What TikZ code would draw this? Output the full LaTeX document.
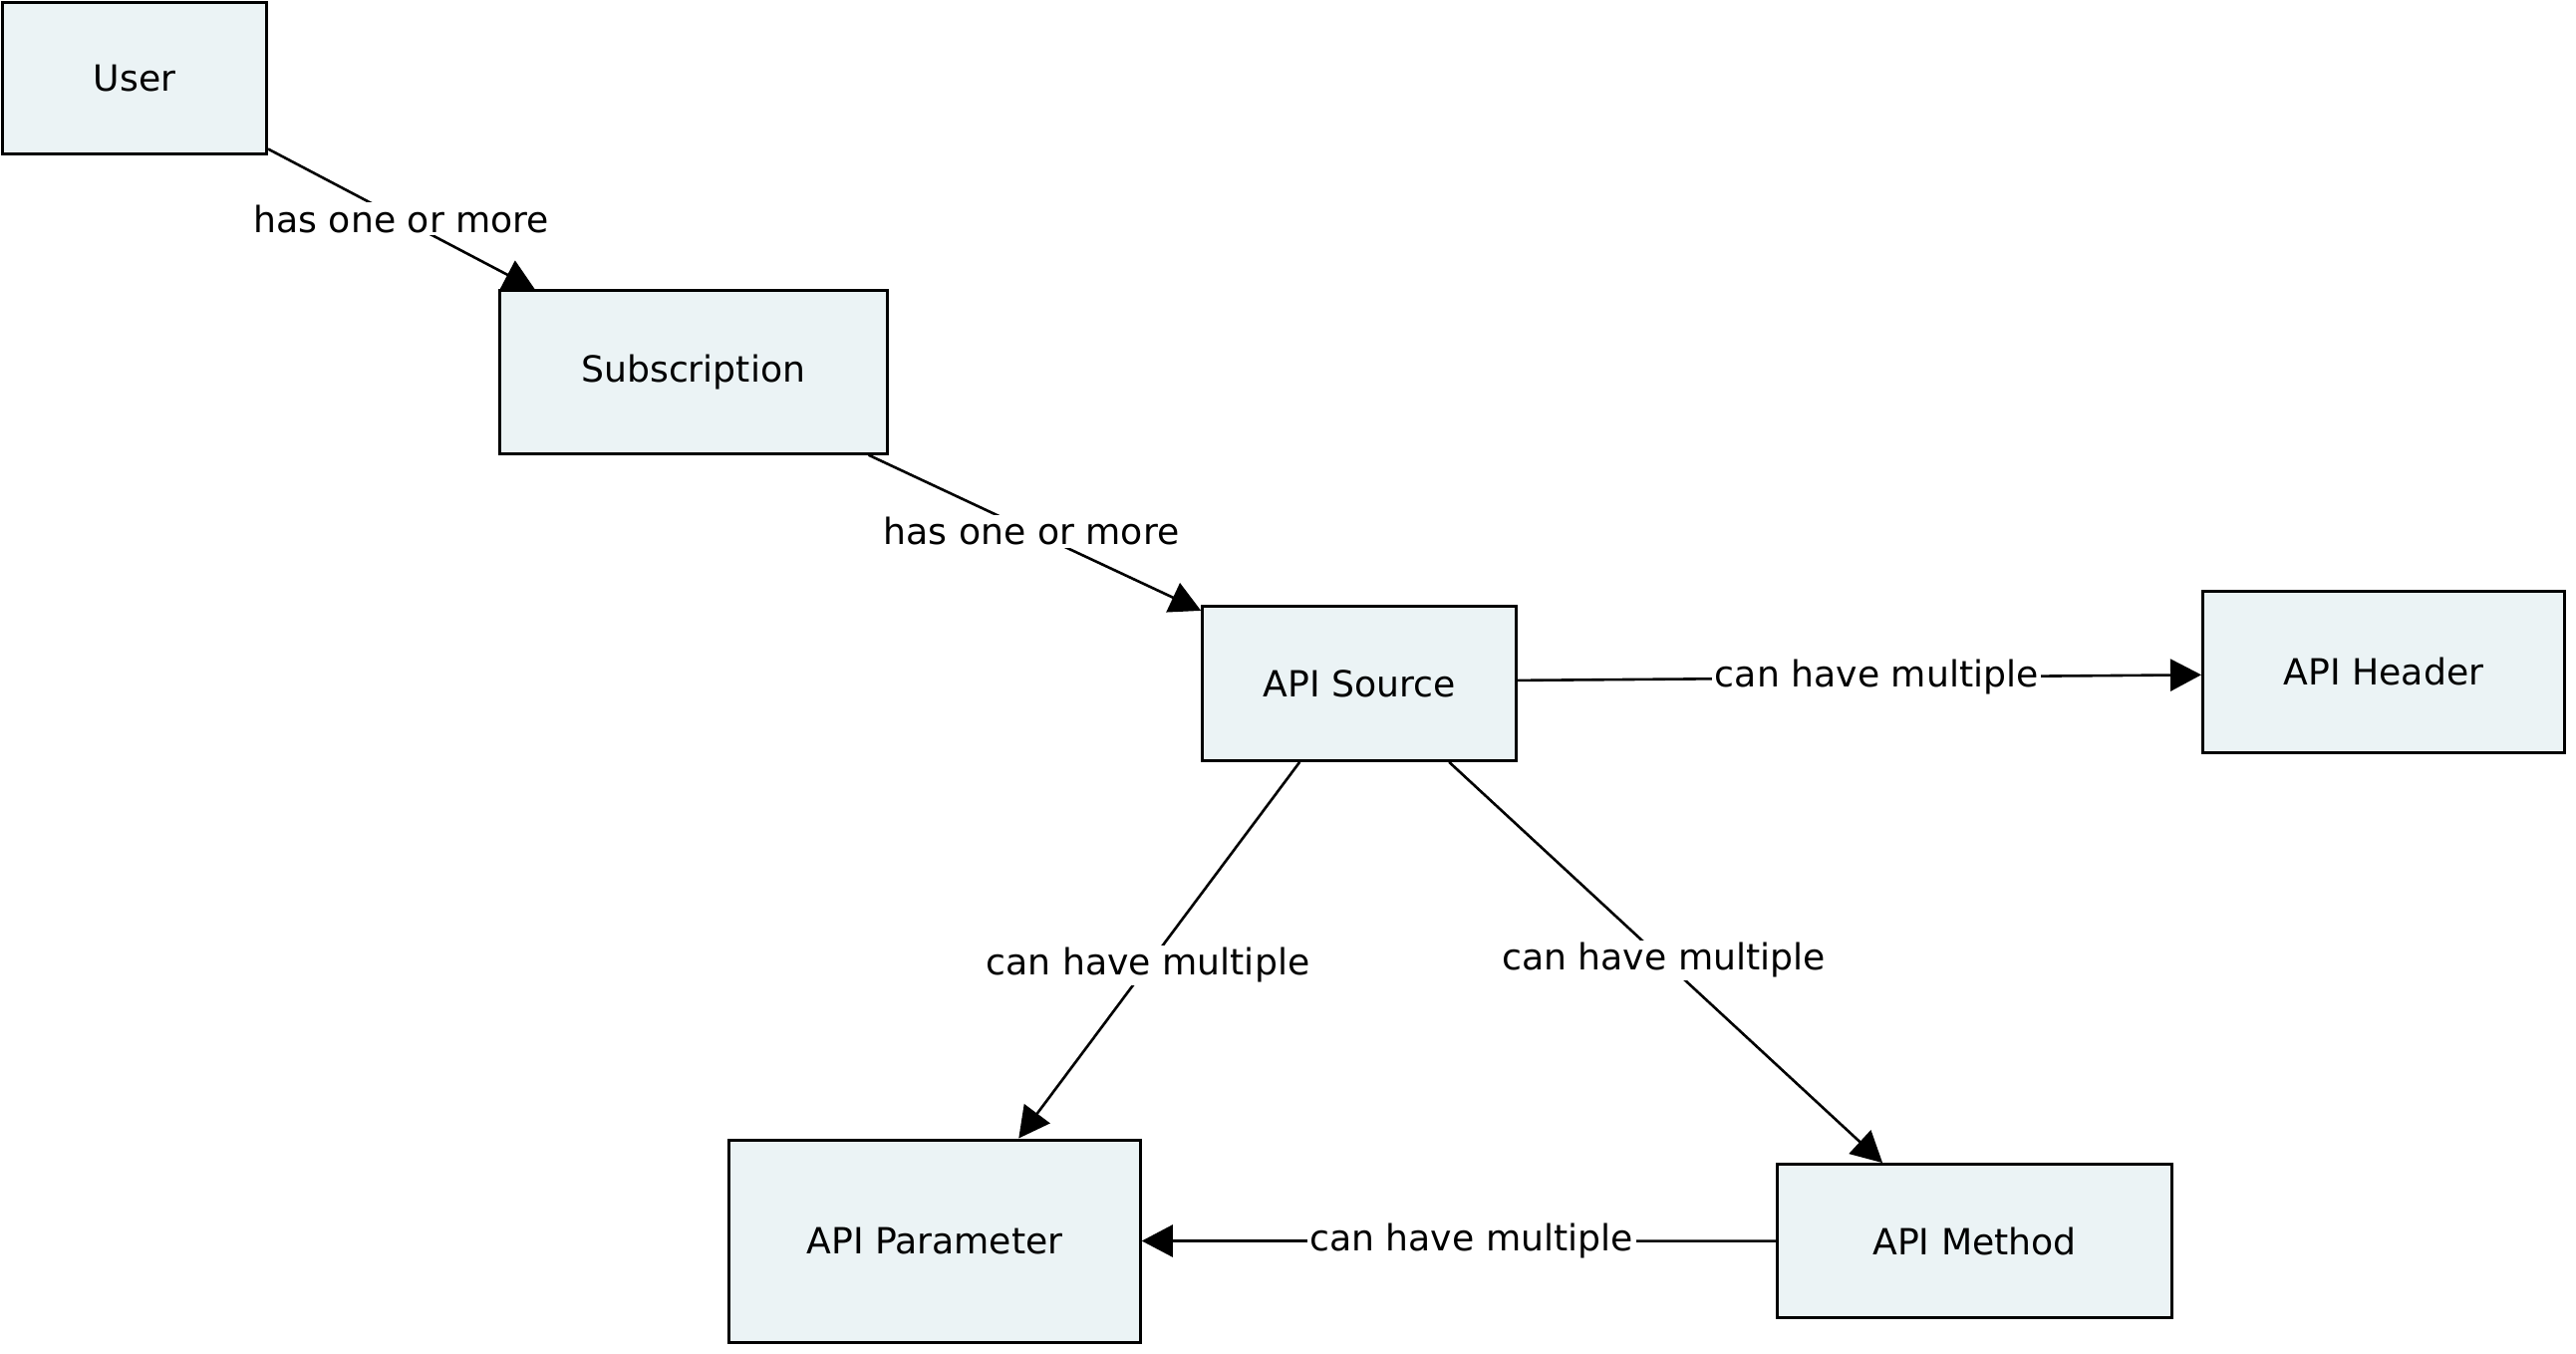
\documentclass[tikz,border=0pt]{standalone}
\usepackage{fontspec}
\setmainfont{DejaVu Sans}
\usetikzlibrary{arrows.meta,calc}
\definecolor{boxfill}{HTML}{EBF3F5}
\begin{document}
\begin{tikzpicture}[x=1pt,y=-1pt,
  font=\fontsize{36.2}{43}\selectfont,
  entity/.style={draw=black, line width=3pt, fill=boxfill, rectangle, inner sep=0pt},
  conn/.style={line width=2.6pt, -{Triangle[length=31pt,width=32pt]}},
  lbl/.style={fill=white, inner sep=2.5pt, text=black}]
\useasboundingbox (0,0) rectangle (2585,1359);
\fill[white] (0,0) rectangle (2585,1359);

\node[entity, minimum width=265pt, minimum height=152pt] (user) at (135,79) {User};
\node[entity, minimum width=389pt, minimum height=163.5pt] (sub) at (695.7,373.5) {Subscription};
\node[entity, minimum width=315pt, minimum height=155pt] (src) at (1364.2,685.9) {API Source};
\node[entity, minimum width=363pt, minimum height=162pt] (hdr) at (2392,674.3) {API Header};
\node[entity, minimum width=412.5pt, minimum height=203pt] (par) at (938,1245.5) {API Parameter};
\node[entity, minimum width=396pt, minimum height=154pt] (meth) at (1981.6,1245.6) {API Method};

\draw[conn] ($(user.south east)+(0,-7)$) -- node[lbl, pos=0.5] {has one or more} ($(sub.north west)+(37,0)$);
\draw[conn] ($(sub.south east)+(-20,0)$) -- node[lbl, pos=0.49] {has one or more} ($(src.north west)+(0,6)$);
\draw[conn] ($(src.east)+(0,-3)$) -- node[lbl, pos=0.525] {can have multiple} ($(hdr.west)+(0,3)$);
\draw[conn] ($(src.south west)+(99,0)$) -- node[lbl, pos=0.54] {can have multiple} ($(par.north west)+(292,0)$);
\draw[conn] ($(src.south west)+(249,0)$) -- node[lbl, pos=0.495] {can have multiple} ($(meth.north west)+(107,0)$);
\draw[conn] (meth.west) -- node[lbl, pos=0.48] {can have multiple} (par.east);
\end{tikzpicture}
\end{document}
